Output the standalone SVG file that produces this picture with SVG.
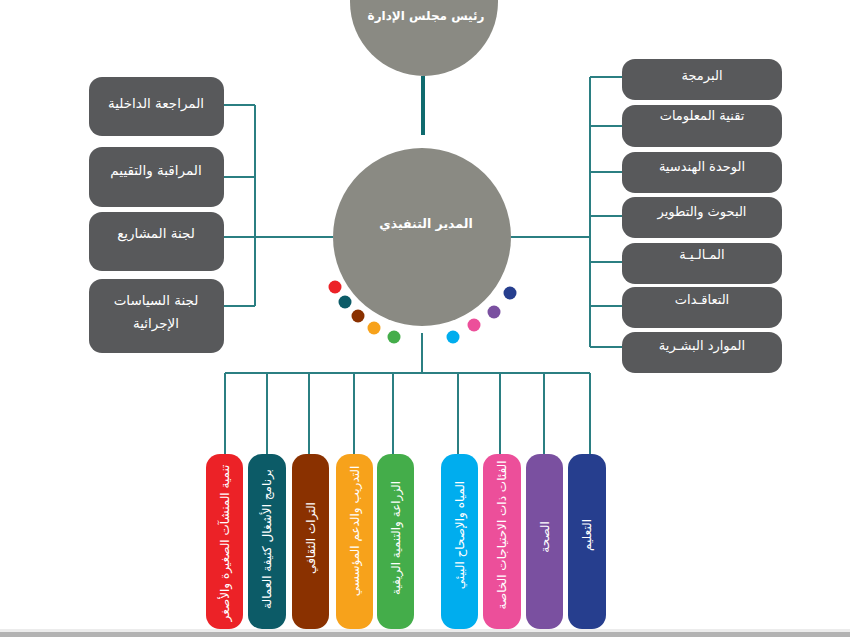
<svg xmlns="http://www.w3.org/2000/svg" width="850" height="637" viewBox="0 0 850 637">
<style>
.t{font-family:"DejaVu Sans","Noto Sans",sans-serif;fill:#fff;direction:rtl;text-anchor:middle}
.box{fill:#58595b}
.circ{fill:#8a8a83}
.con{fill:none;stroke:#2b7f82;stroke-width:2}
.bt{font-size:13px}
.lt{font-size:13.5px}
.pt{font-size:12px}
</style>
<rect width="850" height="637" fill="#fff"/>
<g id="connectors">
<path d="M423,76 V135" stroke="#0f6a6e" stroke-width="4" fill="none"/>
<path class="con" d="M224,105 H255 M224,177 H255 M224,306 H255 M255,105 V306 M224,237 H333"/>
<path class="con" d="M511,237 H590 M590,77 V347 M590,77 H622 M590,126 H622 M590,172 H622 M590,216 H622 M590,262 H622 M590,306 H622 M590,347 H622"/>
<path class="con" d="M422,333 V373 M225,373 H590 M225,373 V454 M267,373 V454 M309,373 V454 M354,373 V454 M393,373 V454 M458,373 V454 M500,373 V454 M544,373 V454 M590,373 V454"/>
</g>
<g id="chair">
<circle class="circ" cx="424" cy="2" r="74"/>
<text class="t" x="426" y="20" font-size="12" font-weight="bold">رئيس مجلس الإدارة</text>
</g>
<g id="ceo">
<circle class="circ" cx="422" cy="237" r="89"/>
<text class="t" x="426" y="228" font-size="12.5" font-weight="bold">المدير التنفيذي</text>
</g>
<g id="dots">
<circle cx="335" cy="287" r="6.5" fill="#ec2227"/>
<circle cx="345" cy="302" r="6.5" fill="#0c5b67"/>
<circle cx="358" cy="316" r="6.5" fill="#8a3100"/>
<circle cx="374" cy="328" r="6.5" fill="#f7a21b"/>
<circle cx="394" cy="337" r="6.5" fill="#44ad4a"/>
<circle cx="453" cy="337" r="6.5" fill="#00adee"/>
<circle cx="474" cy="325" r="6.5" fill="#ec4f9a"/>
<circle cx="494" cy="312" r="6.5" fill="#7a50a0"/>
<circle cx="510" cy="293" r="6.5" fill="#263e8e"/>
</g>
<g id="l1"><rect class="box" x="89" y="77" width="135" height="59" rx="13"/><text class="t lt" x="156" y="108">المراجعة الداخلية</text></g>
<g id="l2"><rect class="box" x="89" y="147" width="135" height="60" rx="13"/><text class="t lt" x="156" y="175">المراقبة والتقييم</text></g>
<g id="l3"><rect class="box" x="89" y="212" width="135" height="59" rx="13"/><text class="t lt" x="156" y="238">لجنة المشاريع</text></g>
<g id="l4"><rect class="box" x="89" y="279" width="135" height="74" rx="13"/><text class="t lt" x="156" y="305">لجنة السياسات</text><text class="t lt" x="156" y="328">الإجرائية</text></g>
<g id="r1"><rect class="box" x="622" y="59" width="160" height="41" rx="13"/><text class="t bt" x="702" y="80">البرمجة</text></g>
<g id="r2"><rect class="box" x="622" y="105" width="160" height="42" rx="13"/><text class="t bt" x="702" y="120">تقنية المعلومات</text></g>
<g id="r3"><rect class="box" x="622" y="152" width="160" height="41" rx="13"/><text class="t bt" x="702" y="171">الوحدة الهندسية</text></g>
<g id="r4"><rect class="box" x="622" y="197" width="160" height="41" rx="13"/><text class="t bt" x="702" y="216">البحوث والتطوير</text></g>
<g id="r5"><rect class="box" x="622" y="243" width="160" height="41" rx="13"/><text class="t bt" x="702" y="259">المـالـيـة</text></g>
<g id="r6"><rect class="box" x="622" y="287" width="160" height="41" rx="13"/><text class="t bt" x="702" y="304">التعاقـدات</text></g>
<g id="r7"><rect class="box" x="622" y="332" width="160" height="41" rx="13"/><text class="t bt" x="702" y="350">الموارد البشـرية</text></g>
<g id="p1"><rect x="206" y="454" width="37" height="175" rx="14" fill="#ec2227"/><text class="t pt" transform="translate(224.5,543) rotate(-90)" y="4">تنمية المنشآت الصغيرة والأصغر</text></g>
<g id="p2"><rect x="248" y="454" width="38" height="175" rx="14" fill="#0c5b67"/><text class="t pt" transform="translate(267,539) rotate(-90)" y="4">برنامج الأشغال كثيفة العمالة</text></g>
<g id="p3"><rect x="292" y="454" width="37" height="175" rx="14" fill="#8a3100"/><text class="t pt" transform="translate(310.5,538) rotate(-90)" y="4">التراث الثقافي</text></g>
<g id="p4"><rect x="336" y="454" width="37" height="175" rx="14" fill="#f7a21b"/><text class="t pt" transform="translate(354.5,531) rotate(-90)" y="4">التدريب والدعم المؤسسي</text></g>
<g id="p5"><rect x="377" y="454" width="37" height="175" rx="14" fill="#44ad4a"/><text class="t pt" transform="translate(395.5,538) rotate(-90)" y="4">الزراعة والتنمية الريفية</text></g>
<g id="p6"><rect x="441" y="454" width="37" height="175" rx="14" fill="#00adee"/><text class="t pt" transform="translate(459.5,535) rotate(-90)" y="4">المياه والإصحاح البيئي</text></g>
<g id="p7"><rect x="483" y="454" width="38" height="175" rx="14" fill="#ec4f9a"/><text class="t pt" transform="translate(502,535) rotate(-90)" y="4">الفئات ذات الاحتياجات الخاصة</text></g>
<g id="p8"><rect x="526" y="454" width="37" height="175" rx="14" fill="#7a50a0"/><text class="t pt" transform="translate(544.5,537) rotate(-90)" y="4">الصحة</text></g>
<g id="p9"><rect x="568" y="454" width="38" height="175" rx="14" fill="#263e8e"/><text class="t pt" transform="translate(587,535) rotate(-90)" y="4">التعليم</text></g>
<rect x="0" y="629" width="850" height="3" fill="#ececec"/>
<rect x="0" y="632" width="850" height="5" fill="#b3b3b3"/>
</svg>
